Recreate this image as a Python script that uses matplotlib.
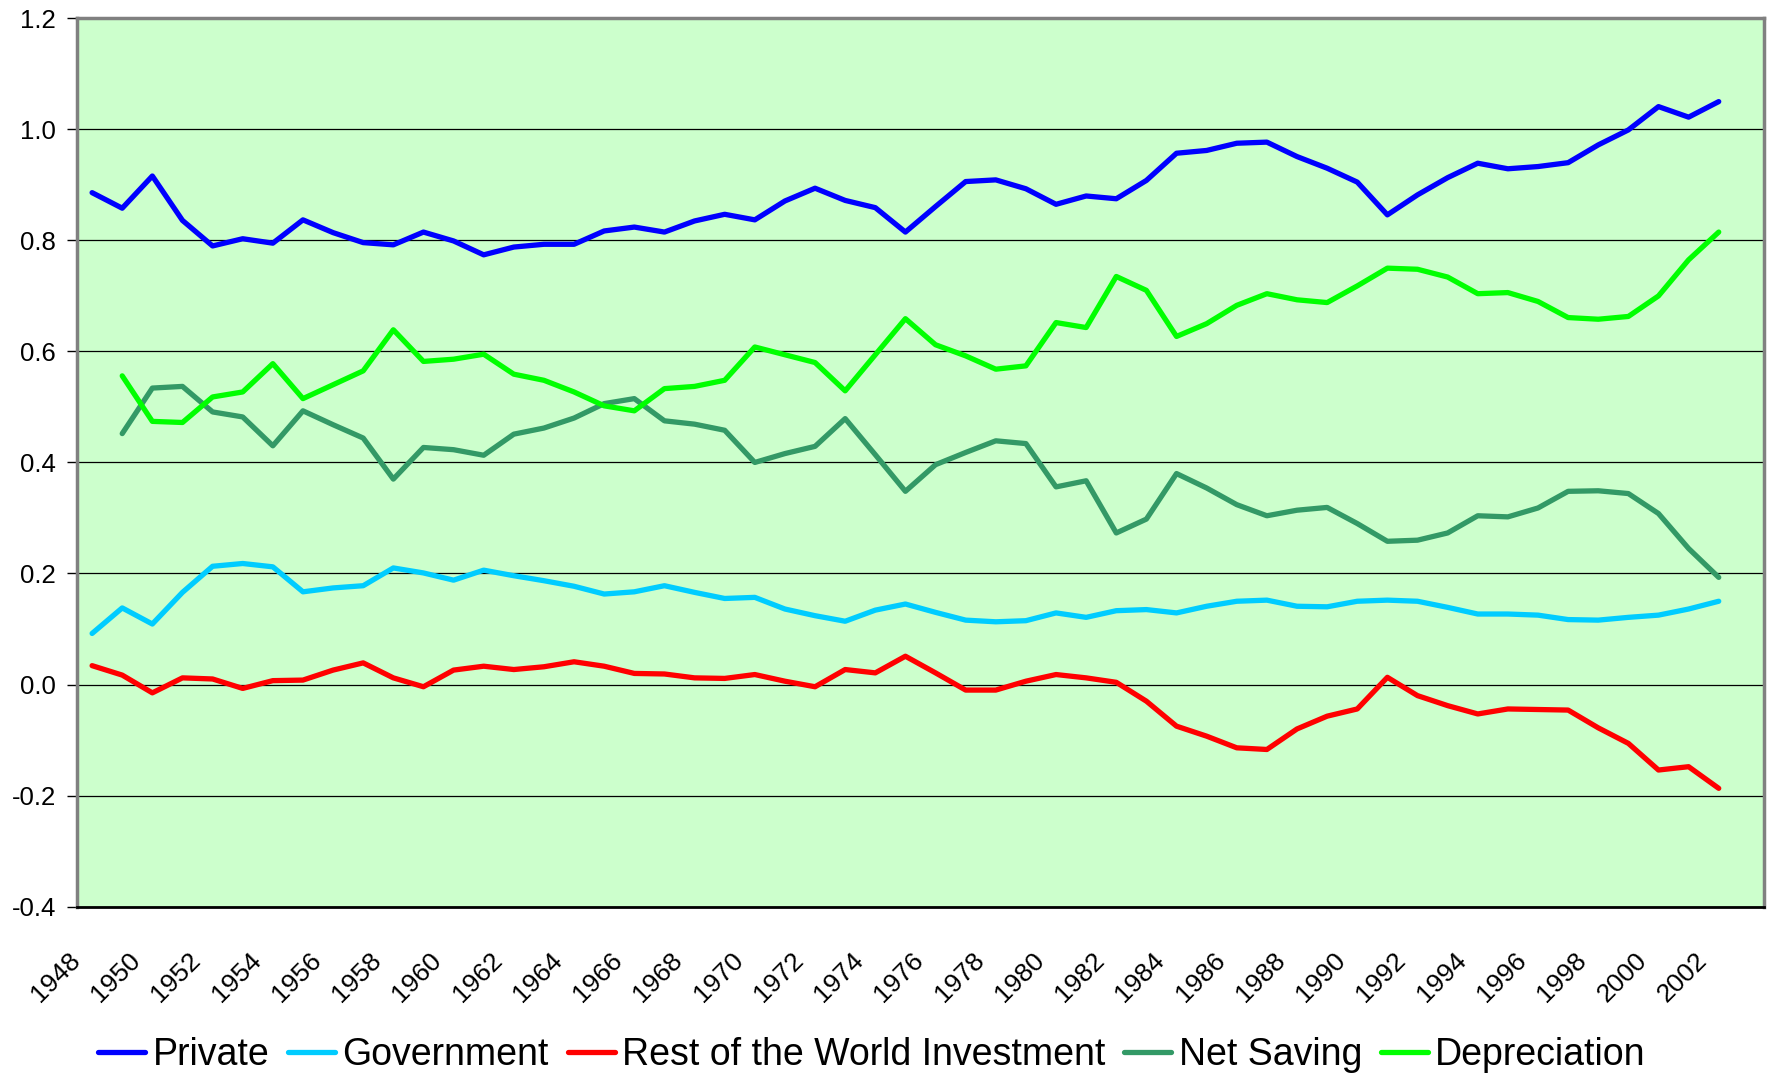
import numpy as np
import matplotlib
matplotlib.use("Agg")
import matplotlib.pyplot as plt
import matplotlib.transforms as mtransforms

plt.rcParams['font.family'] = ['Liberation Sans', 'DejaVu Sans']
plt.rcParams['axes.unicode_minus'] = False

# années 1948-2002 (axe de catégories jusqu'à 2003)
years = list(range(1948, 2003))

private = [0.886, 0.858, 0.916, 0.836, 0.790, 0.803, 0.795, 0.837, 0.814, 0.796,
           0.792, 0.815, 0.799, 0.774, 0.788, 0.793, 0.793, 0.817, 0.824, 0.815,
           0.835, 0.847, 0.837, 0.871, 0.894, 0.872, 0.859, 0.815, 0.861, 0.906,
           0.909, 0.893, 0.865, 0.880, 0.875, 0.908, 0.957, 0.962, 0.975, 0.977,
           0.951, 0.930, 0.905, 0.846, 0.882, 0.913, 0.939, 0.929, 0.933, 0.940,
           0.972, 0.999, 1.041, 1.022, 1.050]

government = [0.092, 0.138, 0.109, 0.166, 0.213, 0.218, 0.212, 0.167, 0.174, 0.178,
              0.210, 0.201, 0.188, 0.206, 0.196, 0.187, 0.177, 0.163, 0.167, 0.178,
              0.166, 0.155, 0.157, 0.136, 0.124, 0.114, 0.134, 0.145, 0.130, 0.116,
              0.113, 0.115, 0.129, 0.121, 0.133, 0.135, 0.129, 0.141, 0.150, 0.152,
              0.141, 0.140, 0.150, 0.152, 0.150, 0.139, 0.127, 0.127, 0.125, 0.117,
              0.116, 0.121, 0.125, 0.136, 0.150]

rest_world = [0.034, 0.017, -0.015, 0.012, 0.010, -0.007, 0.007, 0.008, 0.026, 0.039,
              0.012, -0.004, 0.026, 0.033, 0.027, 0.032, 0.041, 0.033, 0.020, 0.019,
              0.012, 0.011, 0.018, 0.006, -0.004, 0.027, 0.021, 0.051, 0.021, -0.010,
              -0.010, 0.006, 0.018, 0.012, 0.004, -0.030, -0.075, -0.093, -0.114, -0.117,
              -0.080, -0.057, -0.044, 0.013, -0.020, -0.038, -0.053, -0.044, -0.045, -0.046,
              -0.078, -0.106, -0.154, -0.148, -0.187]

net_saving = [np.nan, 0.452, 0.534, 0.537, 0.491, 0.482, 0.430, 0.493, 0.468, 0.444,
              0.370, 0.427, 0.423, 0.413, 0.451, 0.462, 0.480, 0.506, 0.515, 0.475,
              0.469, 0.458, 0.400, 0.416, 0.429, 0.479, 0.414, 0.348, 0.396, 0.418,
              0.439, 0.434, 0.356, 0.367, 0.273, 0.298, 0.380, 0.354, 0.324, 0.304,
              0.314, 0.319, 0.290, 0.258, 0.260, 0.273, 0.304, 0.302, 0.318, 0.348,
              0.349, 0.344, 0.308, 0.245, 0.193]

depreciation = [np.nan, 0.556, 0.474, 0.472, 0.518, 0.527, 0.578, 0.515, 0.540, 0.565,
                0.639, 0.582, 0.586, 0.595, 0.559, 0.548, 0.527, 0.502, 0.493, 0.533,
                0.537, 0.548, 0.608, 0.594, 0.580, 0.529, 0.594, 0.659, 0.612, 0.592,
                0.568, 0.574, 0.652, 0.643, 0.735, 0.710, 0.627, 0.650, 0.683, 0.704,
                0.693, 0.688, 0.718, 0.750, 0.748, 0.734, 0.704, 0.706, 0.690, 0.661,
                0.658, 0.663, 0.700, 0.765, 0.815]

labels = ['Private', 'Government', 'Rest of the World Investment',
          'Net Saving', 'Depreciation']
series = [private, government, rest_world, net_saving, depreciation]
colors = ['#0000FF', '#00CCFF', '#FF0000', '#339966', '#00FF00']

fig = plt.figure(figsize=(17.71, 10.78), dpi=100)
ax = fig.add_axes([0.0435, 0.159, 0.9525, 0.824])
ax.set_facecolor('#CCFFCC')

for vals, lab, col in zip(series, labels, colors):
    ax.plot(years, vals, color=col, lw=3.8, label=lab,
            solid_joinstyle='round', solid_capstyle='round')

ax.set_yticks(np.arange(-0.4, 1.21, 0.2))
ax.set_yticklabels([f"{v:.1f}" for v in np.arange(-0.4, 1.21, 0.2)], fontsize=18.5)
ax.yaxis.grid(True, color='black', lw=0.9)
ax.set_axisbelow(True)

# étiquettes des années sur les limites entre catégories, décalées un peu à gauche
even_years = list(range(1948, 2003, 2))
ax.set_xticks([y - 0.5 for y in even_years])
ax.set_xticklabels([str(y) for y in even_years], fontsize=19, rotation=45,
                   ha='right', va='top', rotation_mode='anchor')
ax.tick_params(axis='x', length=0, pad=30)
ax.tick_params(axis='y', length=7, width=1, pad=8, direction='out')
shift = mtransforms.ScaledTranslation(-0.09, 0, fig.dpi_scale_trans)
for lbl in ax.get_xticklabels():
    lbl.set_transform(lbl.get_transform() + shift)

ax.set_xlim(1947.5, 2003.5)
ax.set_ylim(-0.4, 1.2)

for side in ['left', 'right', 'top']:
    ax.spines[side].set_color('#808080')
    ax.spines[side].set_linewidth(2.5)
ax.spines['bottom'].set_color('black')
ax.spines['bottom'].set_linewidth(2)

fig.legend(loc='center', bbox_to_anchor=(872 / 1771, 1 - 1055 / 1078), ncol=5,
           frameon=False, fontsize=27, handlelength=1.25, handletextpad=0.2,
           columnspacing=0.5)

fig.savefig('out.png', dpi=100)
